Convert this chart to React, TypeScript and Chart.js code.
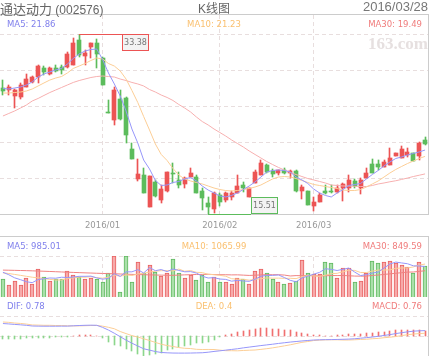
import React, { useEffect, useRef } from "react";
import { Chart, registerables } from "chart.js";

Chart.register(...registerables);

// ---------------- data ----------------
const stockName = "通达动力";
const stockCode = "(002576)";
const chartTitle = "K线图";

const dates = [
  "2015-12-09","2015-12-10","2015-12-11","2015-12-14","2015-12-15","2015-12-16","2015-12-17","2015-12-18","2015-12-21","2015-12-22",
  "2015-12-23","2015-12-24","2015-12-25","2015-12-28","2015-12-29","2015-12-30","2015-12-31",
  "2016-01-04","2016-01-05","2016-01-06","2016-01-07","2016-01-08","2016-01-11","2016-01-12","2016-01-13","2016-01-14","2016-01-15",
  "2016-01-18","2016-01-19","2016-01-20","2016-01-21","2016-01-22","2016-01-25","2016-01-26","2016-01-27","2016-01-28","2016-01-29",
  "2016-02-01","2016-02-02","2016-02-03","2016-02-04","2016-02-05","2016-02-15","2016-02-16","2016-02-17","2016-02-18","2016-02-19",
  "2016-02-22","2016-02-23","2016-02-24","2016-02-25","2016-02-26","2016-02-29",
  "2016-03-01","2016-03-02","2016-03-03","2016-03-04","2016-03-07","2016-03-08","2016-03-09","2016-03-10","2016-03-11","2016-03-14",
  "2016-03-15","2016-03-16","2016-03-17","2016-03-18","2016-03-21","2016-03-22","2016-03-23","2016-03-24","2016-03-25","2016-03-28",
];

const xTickLabels = ["2016/01", "2016/02", "2016/03"];

const opens = [27.99,27.82,27.25,27.16,28.09,28.58,29.08,30.03,29.41,30.03, 30.10,30.13,30.30,32.78,31.23,32.12,32.52,30.97,25.60,24.84,
  26.96,27.00,21.93,18.95,19.38,16.23,18.72,16.90,17.79,19.50, 18.89,18.49,19.21,19.21,17.82,16.57,15.97,17.40,16.90,17.17,
  17.62,18.39,17.17,18.56,19.38,20.37,19.78,19.61,19.88,19.61, 19.78,17.79,17.82,16.30,16.73,17.82,17.74,17.72,18.06,18.06,
  18.82,18.06,19.05,20.47,20.47,20.21,20.37,21.27,21.04,21.37, 21.54,21.27,22.86];
const highs = [28.81,28.32,27.92,28.49,29.41,29.24,30.30,30.20,30.13,30.30, 30.30,31.62,32.95,33.38,31.79,32.52,32.85,31.13,26.83,28.09,
  27.82,27.13,22.59,20.94,20.05,19.28,18.89,18.39,19.71,20.60, 19.71,19.21,20.05,19.38,18.06,17.23,17.72,17.62,17.72,17.79,
  19.38,18.72,18.06,19.88,20.87,20.47,19.95,19.88,20.05,19.88, 19.88,18.39,17.82,17.17,17.56,18.39,18.39,18.39,18.56,19.38,
  18.95,19.05,20.05,20.94,20.87,20.87,22.03,21.54,22.26,22.03, 21.60,22.69,23.18];
const lows = [27.32,27.32,26.00,26.90,28.09,28.49,28.55,29.31,29.31,29.64, 29.41,29.97,30.30,31.13,30.30,30.97,29.97,28.32,25.49,24.35,
  24.84,22.53,20.94,18.82,17.56,16.23,17.20,16.57,17.72,18.56, 18.06,18.06,19.16,17.56,15.91,15.51,15.58,16.30,16.73,16.90,
  17.62,17.72,17.17,18.56,19.38,19.61,19.21,19.38,19.48,19.05, 17.72,16.97,16.40,15.84,16.73,17.49,17.56,17.62,16.83,17.72,
  18.06,17.49,19.05,19.55,19.88,20.15,20.37,21.27,21.04,21.20, 20.80,20.87,22.36];
const closes = [27.75,28.07,27.82,28.32,28.91,29.08,30.20,29.64,29.97,29.74, 29.81,31.39,32.52,31.27,31.52,32.52,31.39,28.32,25.49,27.82,
  24.94,23.35,20.94,19.48,17.56,19.28,17.30,17.99,19.71,19.46, 18.39,19.05,19.61,17.56,17.13,16.23,17.62,16.73,17.56,17.56,
  18.29,18.06,18.06,19.71,20.60,19.71,19.45,19.88,19.61,19.81, 17.79,18.22,16.40,16.73,17.40,17.56,17.70,18.06,18.46,18.89,
  18.29,18.89,19.61,19.55,20.15,20.70,21.04,21.54,21.93,21.70, 20.80,22.53,22.46];

const ma5 = [27.97,27.92,28.02,28.12,28.32,28.62,29.11,29.41,29.61,29.81, 29.96,30.40,30.95,31.40,31.69,31.84,31.89,30.85,29.51,28.42,
  27.23,25.74,23.95,22.56,20.87,19.98,18.84,18.34,18.39,18.64, 18.74,18.99,19.13,18.79,18.29,17.89,17.60,17.30,17.20,17.35,
  17.60,17.94,18.29,18.69,19.18,19.68,19.83,19.88,19.83,19.68, 19.18,18.89,18.54,17.99,17.60,17.35,17.20,17.60,17.94,18.34,
  18.44,18.54,18.99,19.43,19.83,20.28,20.67,21.02,21.17,21.37, 21.52,21.67,21.86];
const ma10 = [27.52,27.52,27.57,27.62,27.72,27.92,28.22,28.52,28.81,29.01, 29.16,29.51,29.96,30.20,30.45,30.75,31.00,30.90,30.45,30.20,
  29.71,28.91,27.77,26.58,25.19,23.85,22.46,21.42,20.82,20.03, 19.38,18.99,18.79,18.64,18.49,18.29,18.09,17.94,17.84,17.79,
  17.84,17.94,18.04,18.19,18.39,18.69,18.99,19.18,19.23,19.18, 19.03,18.84,18.64,18.44,18.34,18.24,18.14,18.04,17.89,17.84,
  17.84,17.94,18.19,18.49,18.79,19.18,19.58,19.93,20.23,20.52, 20.77,21.02,21.23];
const ma30 = [25.24,25.49,25.74,26.03,26.33,26.73,26.98,27.28,27.57,27.82, 28.07,28.32,28.57,28.76,28.91,29.06,29.16,29.21,29.16,29.11,
  28.91,28.76,28.57,28.42,28.22,27.87,27.62,27.32,27.08,26.78, 26.38,26.03,25.64,25.14,24.69,24.35,23.95,23.60,23.25,22.86,
  22.51,22.16,21.77,21.42,21.07,20.72,20.42,20.13,19.88,19.63, 19.43,19.23,19.03,18.89,18.74,18.59,18.39,18.34,18.29,18.29,
  18.26,18.24,18.24,18.34,18.49,18.59,18.71,18.81,18.94,19.08, 19.23,19.36,19.49];

const volumes = [572,388,517,388,605,420,896,637,517,572, 572,851,711,637,572,605,572,495,766,1326,
  171,1310,495,1122,786,1035,818,679,786,1219, 786,605,711,550,711,495,663,485,495,420,
  624,572,420,841,896,766,572,495,420,443, 527,1197,786,734,734,1122,1090,605,928,928,
  475,527,766,1174,1090,1122,1174,1090,1035,960, 786,1142,1003];
const volMa5 = [800,720,620,560,494,464,565,589,615,608, 639,630,645,669,669,675,619,576,602,753,
  666,814,814,885,777,950,851,888,821,907, 858,815,821,774,673,614,626,581,570,512,
  537,519,506,575,671,699,699,714,630,539, 491,616,675,737,796,915,893,857,896,935,
  805,693,725,774,806,936,1065,1130,1102,1076, 1009,1003,985.01];
const volMa10 = [780,760,730,700,670,640,620,600,570,551, 551,598,617,642,639,657,625,610,635,711,
  671,717,695,743,765,808,832,851,853,842, 904,833,855,798,790,736,721,701,672,592,
  576,573,544,573,591,618,609,610,603,605, 595,658,694,684,667,703,755,766,817,865,
  860,793,791,835,871,871,879,927,938,941, 972,1034,1065.99];
const volMa30 = [870,866,862,857,852,846,840,833,826,818, 810,802,795,788,781,775,768,762,756,750,
  744,738,732,726,721,716,711,707,703,701, 708,716,722,728,731,734,726,721,720,715,
  717,707,698,705,715,721,721,721,709,680, 692,688,698,685,683,686,695,692,697,687,
  677,674,676,697,710,731,748,768,786,804, 809,828,849.59];

const dif = [1.81,1.75,1.68,1.62,1.55,1.45,1.43,1.42,1.42,1.42, 1.43,1.43,1.48,1.52,1.55,1.57,1.55,1.25,0.86,0.40,
  -0.10,-0.60,-1.04,-1.45,-1.85,-2.05,-2.25,-2.39,-2.44,-2.47, -2.48,-2.48,-2.47,-2.45,-2.43,-2.35,-2.24,-2.15,-2.05,-1.95,
  -1.85,-1.72,-1.61,-1.50,-1.39,-1.29,-1.19,-1.08,-0.98,-0.88, -0.80,-0.72,-0.65,-0.58,-0.55,-0.53,-0.52,-0.50,-0.48,-0.45,
  -0.40,-0.32,-0.24,-0.15,-0.05,0.08,0.20,0.35,0.48,0.60, 0.70,0.75,0.78];
const dea = [2.03,1.98,1.88,1.82,1.73,1.60,1.58,1.55,1.55,1.52, 1.51,1.48,1.46,1.47,1.49,1.52,1.53,1.43,1.26,1.05,
  0.65,0.35,0.06,-0.15,-0.40,-0.65,-0.93,-1.19,-1.39,-1.52, -1.68,-1.78,-1.82,-1.93,-1.96,-1.95,-1.96,-2.05,-2.13,-2.13,
  -2.15,-2.10,-2.06,-2.03,-1.94,-1.84,-1.72,-1.58,-1.43,-1.28, -1.10,-0.92,-0.80,-0.66,-0.60,-0.56,-0.55,-0.55,-0.58,-0.58,
  -0.55,-0.50,-0.47,-0.40,-0.35,-0.25,-0.18,-0.08,0.06,0.18, 0.28,0.35,0.40];
const macd = [-0.45,-0.45,-0.40,-0.40,-0.35,-0.30,-0.30,-0.25,-0.25,-0.20, -0.15,-0.10,0.05,0.10,0.12,0.10,0.05,-0.35,-0.80,-1.30,
  -1.50,-1.90,-2.20,-2.60,-2.90,-2.80,-2.65,-2.40,-2.10,-1.90, -1.60,-1.40,-1.30,-1.05,-0.95,-0.80,-0.57,-0.20,0.15,0.35,
  0.60,0.75,0.90,1.05,1.10,1.10,1.05,1.00,0.90,0.80, 0.60,0.40,0.30,0.15,0.10,0.05,0.05,0.10,0.20,0.25,
  0.30,0.35,0.45,0.50,0.60,0.65,0.75,0.85,0.85,0.85, 0.85,0.80,0.76];

// ---------------- styles ----------------
const CW = 430;
const CH = 356;
const RIGHT = 428;
const MAIN_TOP = 34, MAIN_BOTTOM = 214, BOX1_TOP = 14;
const VOL_BOX_TOP = 236, VOL_TOP = 256, VOL_BOTTOM = 297;
const MACD_TOP = 316;

const RED = "rgb(236,84,84)";
const GREEN = "rgb(92,188,92)";
const VOL_RED_FILL = "rgb(247,170,170)";
const VOL_RED_BORDER = "rgb(232,96,96)";
const VOL_GREEN_FILL = "rgb(170,224,170)";
const VOL_GREEN_BORDER = "rgb(96,184,96)";
const MACD_RED = "rgb(240,112,112)";
const MACD_GREEN = "rgb(140,214,140)";
const MA5_LINE = "rgb(150,150,250)";
const MA10_LINE = "rgb(252,206,150)";
const MA30_LINE = "rgb(247,176,176)";
const VMA30_LINE = "rgb(240,130,130)";
const MA5_TEXT = "rgb(128,128,236)";
const MA10_TEXT = "rgb(250,192,112)";
const MA30_TEXT = "rgb(240,124,124)";
const GRID = "rgb(232,222,222)";
const BORDER = "rgb(204,204,204)";
const SMALL_FONT = "8.5px 'DejaVu Sans'";

function hDash(ctx: CanvasRenderingContext2D, x1: number, x2: number, y: number) {
  ctx.save();
  ctx.strokeStyle = GRID;
  ctx.lineWidth = 1;
  ctx.setLineDash([4, 3]);
  const yy = Math.round(y) + 0.5;
  ctx.beginPath();
  ctx.moveTo(x1, yy);
  ctx.lineTo(x2, yy);
  ctx.stroke();
  ctx.restore();
}
function vDash(ctx: CanvasRenderingContext2D, x: number, y1: number, y2: number) {
  ctx.save();
  ctx.strokeStyle = GRID;
  ctx.lineWidth = 1;
  ctx.setLineDash([4, 3]);
  const xx = Math.floor(x) + 0.5;
  ctx.beginPath();
  ctx.moveTo(xx, y1);
  ctx.lineTo(xx, y2);
  ctx.stroke();
  ctx.restore();
}

const monthStarts = xTickLabels.map((lbl) => ({
  label: lbl,
  index: dates.findIndex((d) => d.startsWith(lbl.replace("/", "-"))),
}));

const snapPlugin = {
  id: "snap",
  afterDatasetsUpdate(chart: any) {
    chart.data.datasets.forEach((ds: any, di: number) => {
      const meta = chart.getDatasetMeta(di);
      if (meta.type !== "bar") return;
      const thin = ds.barThickness === 1;
      meta.data.forEach((el: any) => {
        el.x = thin ? Math.floor(el.x) + 0.5 : Math.round(el.x);
        el.y = Math.round(el.y);
        el.base = Math.round(el.base);
      });
    });
  },
};

function lineDs(label: string, data: number[], color: string) {
  return {
    type: "line" as const,
    label,
    data,
    borderColor: color,
    borderWidth: 1,
    pointRadius: 0,
    tension: 0,
    fill: false,
    order: 0,
  };
}

export default function App() {
  const mainRef = useRef<HTMLCanvasElement>(null);
  const volRef = useRef<HTMLCanvasElement>(null);
  const macdRef = useRef<HTMLCanvasElement>(null);

  useEffect(() => {
    const charts: Chart[] = [];
    const n = dates.length;
    const up = closes.map((c, i) => c >= opens[i]);
    const candleColors = up.map((u) => (u ? RED : GREEN));
    const minLow = Math.min(...lows);
    const maxHigh = Math.max(...highs);

    const mainDecor = {
      id: "mainDecor",
      beforeDatasetsDraw(chart: any) {
        const { ctx, scales } = chart;
        const x = scales.x, y = scales.y;
        for (let k = 1; k <= 5; k++) {
          hDash(ctx, 0, RIGHT, y.getPixelForValue(minLow + ((maxHigh - minLow) * k) / 5));
        }
        monthStarts.forEach((m) => vDash(ctx, x.getPixelForValue(m.index), BOX1_TOP + 1, MAIN_BOTTOM));
        ctx.save();
        ctx.fillStyle = BORDER;
        ctx.fillRect(0, BOX1_TOP, RIGHT + 1, 1);
        ctx.fillRect(RIGHT, BOX1_TOP, 1, MAIN_BOTTOM - BOX1_TOP + 1);
        ctx.fillRect(0, MAIN_BOTTOM, RIGHT + 1, 1);
        ctx.restore();
      },
      afterDatasetsDraw(chart: any) {
        const { ctx, scales } = chart;
        const x = scales.x, y = scales.y;
        ctx.save();
        ctx.font = SMALL_FONT;
        ctx.fillStyle = "#999";
        ctx.textAlign = "center";
        ctx.textBaseline = "middle";
        monthStarts.forEach((m) => ctx.fillText(m.label, x.getPixelForValue(m.index), 225.5));

        // max marker
        const hiIdx = highs.indexOf(maxHigh);
        const hx = Math.floor(x.getPixelForValue(hiIdx));
        const hy = Math.round(y.getPixelForValue(maxHigh));
        ctx.fillStyle = RED;
        ctx.fillRect(hx, hy, 43, 1);
        ctx.fillStyle = "#f3f3f3";
        ctx.fillRect(hx + 43, hy, 26, 16);
        ctx.strokeStyle = RED;
        ctx.lineWidth = 1;
        ctx.strokeRect(hx + 43.5, hy + 0.5, 26, 16);
        ctx.fillStyle = "#777";
        ctx.font = "8px 'DejaVu Sans'";
        ctx.fillText(maxHigh.toFixed(2), hx + 43 + 13.5, hy + 8.5);

        // min marker
        const loIdx = lows.indexOf(minLow);
        const lx = Math.floor(x.getPixelForValue(loIdx));
        const ly = Math.round(y.getPixelForValue(minLow));
        ctx.fillStyle = GREEN;
        ctx.fillRect(lx, ly, 43, 1);
        ctx.fillStyle = "#f3f3f3";
        ctx.fillRect(lx + 43, ly - 16, 26, 16);
        ctx.strokeStyle = GREEN;
        ctx.strokeRect(lx + 43.5, ly - 16.5, 26, 16);
        ctx.fillStyle = "#777";
        ctx.fillText(minLow.toFixed(2), lx + 43 + 13.5, ly - 8);
        ctx.restore();
      },
    };

    if (mainRef.current) {
      charts.push(
        new Chart(mainRef.current, {
          type: "bar",
          data: {
            labels: dates,
            datasets: [
              lineDs("MA5", ma5, MA5_LINE),
              lineDs("MA10", ma10, MA10_LINE),
              lineDs("MA30", ma30, MA30_LINE),
              {
                type: "bar",
                label: "body",
                data: opens.map((o, i) => [o, closes[i]]),
                backgroundColor: candleColors,
                borderWidth: 0,
                barThickness: 4,
                minBarLength: 1,
                grouped: false,
                order: 1,
              } as any,
              {
                type: "bar",
                label: "wick",
                data: lows.map((l, i) => [l, highs[i]]),
                backgroundColor: candleColors,
                borderWidth: 0,
                barThickness: 1,
                grouped: false,
                order: 2,
              } as any,
            ],
          },
          options: {
            responsive: false,
            animation: false,
            events: [],
            layout: { padding: { left: 0, right: CW - RIGHT, top: MAIN_TOP, bottom: CH - MAIN_BOTTOM } },
            plugins: { legend: { display: false }, tooltip: { enabled: false } },
            scales: {
              x: { display: false, offset: true },
              y: { display: false, min: minLow, max: maxHigh },
            },
          },
          plugins: [snapPlugin, mainDecor],
        })
      );
    }

    const volDecor = {
      id: "volDecor",
      beforeDatasetsDraw(chart: any) {
        const { ctx, scales } = chart;
        const x = scales.x;
        hDash(ctx, 0, RIGHT, VOL_TOP);
        monthStarts.forEach((m) => vDash(ctx, x.getPixelForValue(m.index), VOL_TOP + 1, VOL_BOTTOM));
        ctx.save();
        ctx.fillStyle = BORDER;
        ctx.fillRect(0, VOL_BOX_TOP, RIGHT + 1, 1);
        ctx.fillRect(RIGHT, VOL_BOX_TOP, 1, CH - VOL_BOX_TOP);
        ctx.restore();
      },
    };

    if (volRef.current) {
      charts.push(
        new Chart(volRef.current, {
          type: "bar",
          data: {
            labels: dates,
            datasets: [
              lineDs("VMA5", volMa5, MA5_LINE),
              lineDs("VMA10", volMa10, MA10_LINE),
              lineDs("VMA30", volMa30, VMA30_LINE),
              {
                type: "bar",
                label: "volume",
                data: volumes,
                backgroundColor: up.map((u) => (u ? VOL_RED_FILL : VOL_GREEN_FILL)),
                borderColor: up.map((u) => (u ? VOL_RED_BORDER : VOL_GREEN_BORDER)),
                borderWidth: 1,
                borderSkipped: "start",
                barThickness: 4,
                order: 1,
              } as any,
            ],
          },
          options: {
            responsive: false,
            animation: false,
            events: [],
            layout: { padding: { left: 0, right: CW - RIGHT, top: VOL_TOP, bottom: CH - VOL_BOTTOM } },
            plugins: { legend: { display: false }, tooltip: { enabled: false } },
            scales: {
              x: { display: false, offset: true },
              y: { display: false, min: 0, max: Math.max(...volumes) },
            },
          },
          plugins: [snapPlugin, volDecor],
        })
      );
    }

    const macdRange = Math.max(...[...dif, ...dea, ...macd].map((v) => Math.abs(v)));
    const macdDecor = {
      id: "macdDecor",
      beforeDatasetsDraw(chart: any) {
        const { ctx, scales } = chart;
        hDash(ctx, 0, RIGHT, MACD_TOP);
        hDash(ctx, 0, RIGHT, scales.y.getPixelForValue(0));
      },
    };

    if (macdRef.current) {
      charts.push(
        new Chart(macdRef.current, {
          type: "bar",
          data: {
            labels: dates,
            datasets: [
              lineDs("DIF", dif, MA5_LINE),
              lineDs("DEA", dea, MA10_LINE),
              {
                type: "bar",
                label: "MACD",
                data: macd,
                backgroundColor: macd.map((v) => (v >= 0 ? MACD_RED : MACD_GREEN)),
                borderWidth: 0,
                barThickness: 1,
                order: 1,
              } as any,
            ],
          },
          options: {
            responsive: false,
            animation: false,
            events: [],
            layout: { padding: { left: 0, right: CW - RIGHT, top: MACD_TOP, bottom: 0 } },
            plugins: { legend: { display: false }, tooltip: { enabled: false } },
            scales: {
              x: { display: false, offset: true },
              y: { display: false, min: -macdRange, max: macdRange },
            },
          },
          plugins: [snapPlugin, macdDecor],
        })
      );
    }

    return () => charts.forEach((c) => c.destroy());
  }, []);

  const n = dates.length;
  const canvasStyle: React.CSSProperties = { position: "absolute", left: 0, top: 0 };
  const small: React.CSSProperties = {
    position: "absolute",
    font: SMALL_FONT,
    lineHeight: "10px",
    whiteSpace: "nowrap",
  };
  const legendRow = (top: number, left: string, lc: string, mid: string, mc: string, right: string, rc: string) => (
    <>
      <div style={{ ...small, top, left: 7, color: lc }}>{left}</div>
      <div style={{ ...small, top, left: 0, width: RIGHT, textAlign: "center", color: mc }}>{mid}</div>
      <div style={{ ...small, top, right: CW - 422, color: rc }}>{right}</div>
    </>
  );

  return (
    <div style={{ position: "absolute", left: 0, top: 0, width: CW, height: CH, background: "#fff", overflow: "hidden" }}>
      <canvas ref={mainRef} width={CW} height={CH} style={canvasStyle} />
      <canvas ref={volRef} width={CW} height={CH} style={canvasStyle} />
      <canvas ref={macdRef} width={CW} height={CH} style={canvasStyle} />

      <div style={{ position: "absolute", left: 0, top: -1, whiteSpace: "nowrap", color: "#666", lineHeight: "14px" }}>
        <span style={{ font: "13px 'Noto Sans CJK SC'" }}>{stockName}</span>
        <span style={{ font: "12px 'Liberation Sans'" }}> {stockCode}</span>
      </div>
      <div style={{ position: "absolute", left: 0, width: RIGHT, top: -1, textAlign: "center", whiteSpace: "nowrap", color: "#666", lineHeight: "14px", font: "12px 'Liberation Sans', 'Noto Sans CJK SC'" }}>
        {chartTitle}
      </div>
      <div style={{ position: "absolute", right: CW - RIGHT, top: -1, whiteSpace: "nowrap", color: "#777", lineHeight: "14px", font: "13px 'Liberation Sans'" }}>
        {dates[n - 1].replace(/-/g, "/")}
      </div>

      <div style={{ position: "absolute", right: CW - RIGHT, top: 35, whiteSpace: "nowrap", color: "rgb(230,224,224)", font: "bold 17px 'Liberation Serif'", lineHeight: "17px" }}>
        163.com
      </div>

      {legendRow(19, `MA5: ${ma5[n - 1]}`, MA5_TEXT, `MA10: ${ma10[n - 1]}`, MA10_TEXT, `MA30: ${ma30[n - 1]}`, MA30_TEXT)}
      {legendRow(241, `MA5: ${volMa5[n - 1]}`, MA5_TEXT, `MA10: ${volMa10[n - 1]}`, MA10_TEXT, `MA30: ${volMa30[n - 1]}`, MA30_TEXT)}
      {legendRow(301, `DIF: ${dif[n - 1]}`, MA5_TEXT, `DEA: ${dea[n - 1]}`, MA10_TEXT, `MACD: ${macd[n - 1]}`, MA30_TEXT)}
    </div>
  );
}
